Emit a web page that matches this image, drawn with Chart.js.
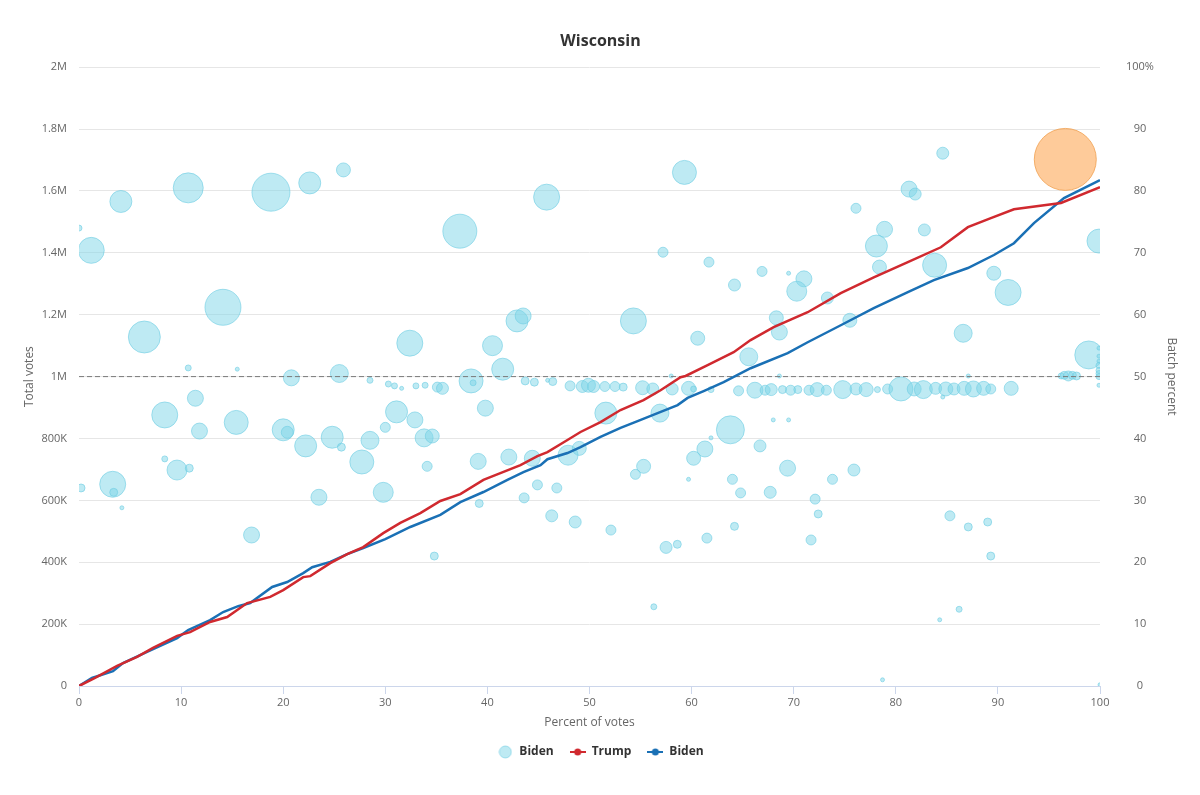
<!DOCTYPE html>
<html>
<head>
<meta charset="utf-8">
<title>Wisconsin</title>
<script src="https://cdn.jsdelivr.net/npm/chart.js@4.4.1/dist/chart.umd.min.js"></script>
<style>
  html, body { margin: 0; padding: 0; background: #fff; }
  #wrap { width: 1200px; height: 795px; position: relative; }
</style>
</head>
<body>
<div id="wrap"><canvas id="chart"></canvas></div>
<script>
// Vote batches: x = percent of votes counted, y = Biden share of the batch, r = bubble radius
const batchX = [
  0.0, 1.2, 4.1, 10.7, 18.8, 22.6, 25.9, 14.1, 6.4, 37.3, 45.8, 59.3, 57.2, 61.7, 64.2,
  32.4, 40.5, 42.9, 43.5, 54.3, 60.6, 66.9, 69.5, 71.0, 70.3, 73.3, 68.3, 68.6, 75.5, 65.6,
  86.6, 76.1, 78.9, 78.1, 78.4, 82.8, 83.8, 81.3, 81.9, 84.6, 89.6, 91.0, 99.9, 98.9, 96.6, 99.9,
  // around the 50% line
  10.7, 15.5, 20.8, 25.5, 28.5, 41.5, 38.4, 38.6, 58.0, 68.6, 87.1,
  96.2, 96.5, 96.9, 97.3, 97.7,
  99.9, 99.9, 99.9, 99.9, 99.9, 99.9, 99.9,
  30.3, 30.9, 31.6, 33.0, 33.9, 35.1, 35.6, 43.7, 44.6, 45.9, 46.4, 48.1, 49.3, 49.9, 50.4,
  51.5, 52.5, 53.3, 55.2, 56.2, 58.1, 59.7, 60.2, 61.9, 64.6, 66.2, 67.2, 67.8, 68.9, 69.7,
  70.4, 71.5, 72.3, 73.2, 74.8, 76.1, 77.1, 78.2, 79.2, 80.5, 81.8, 82.7, 83.9, 84.9, 85.7,
  86.7, 87.6, 88.6, 89.3, 91.3, 84.6,
  // lower batches
  0.2, 3.3, 3.4, 4.2, 8.4, 11.4, 11.8, 15.4, 8.4, 9.6, 10.8, 16.9, 20.0, 20.4, 22.2,
  24.8, 25.7, 27.7, 28.5, 30.0, 31.1, 23.5, 29.8, 32.9, 33.8, 34.6, 34.1, 34.8, 39.8, 39.1,
  39.2, 42.1, 44.4, 44.9, 43.6, 46.8, 46.3, 48.6, 52.1, 47.9, 49.0, 51.6, 56.9, 63.8, 61.3,
  60.2, 61.9, 55.3, 54.5, 59.7, 64.0, 64.2, 57.5, 58.6, 61.5, 56.3, 66.7, 69.4, 64.8, 67.7,
  73.8, 75.9, 72.1, 72.4, 71.7, 85.3, 87.1, 89.0, 89.3, 86.2, 84.3, 78.7, 100, 68.0, 69.5
];
const batchPct = [
  74.0, 70.4, 78.3, 80.5, 79.8, 81.3, 83.4, 61.2, 56.4, 73.5, 79.0, 83.0, 70.1, 68.5, 64.8,
  55.4, 55.0, 59.0, 59.8, 59.0, 56.2, 67.0, 66.7, 65.8, 63.8, 62.7, 59.5, 57.2, 59.1, 53.2,
  57.0, 77.2, 73.8, 71.1, 67.7, 73.7, 68.0, 80.3, 79.5, 86.1, 66.7, 63.6, 71.9, 53.5, 85.1, 54.6,
  51.4, 51.2, 49.8, 50.5, 49.4, 51.2, 49.3, 49.0, 50.1, 50.1, 50.1,
  50.1, 50.2, 50.1, 50.2, 50.1,
  53.3, 52.5, 51.8, 51.0, 50.5, 50.0, 48.6,
  48.8, 48.5, 48.1, 48.5, 48.6, 48.3, 48.1, 49.3, 49.1, 49.4, 49.2, 48.5, 48.4, 48.6, 48.4,
  48.4, 48.4, 48.3, 48.2, 48.0, 48.0, 48.1, 48.0, 47.9, 47.7, 47.8, 47.8, 47.9, 47.9, 47.8,
  47.9, 47.8, 47.9, 47.8, 47.9, 48.0, 47.9, 47.9, 48.0, 48.0, 48.0, 47.9, 48.1, 48.0, 48.0,
  48.1, 48.0, 48.1, 48.0, 48.1, 46.7,
  32.0, 32.6, 31.3, 28.8, 43.8, 46.5, 41.2, 42.6, 36.7, 34.9, 35.2, 24.4, 41.4, 41.0, 38.8,
  40.2, 38.6, 36.2, 39.7, 41.8, 44.3, 30.5, 31.3, 43.0, 40.1, 40.4, 35.5, 21.0, 44.9, 36.3,
  29.5, 37.0, 36.8, 32.5, 30.4, 32.0, 27.5, 26.5, 25.2, 37.3, 38.4, 44.1, 44.1, 41.4, 38.3,
  36.8, 40.1, 35.5, 34.2, 33.4, 33.4, 25.8, 22.4, 22.9, 23.9, 12.8, 38.8, 35.2, 31.2, 31.3,
  33.4, 34.9, 30.2, 27.8, 23.6, 27.5, 25.7, 26.5, 21.0, 12.4, 10.7, 1.0, 0.2, 43.0, 43.0
];
const batchSize = [
  3, 13, 11, 15, 19, 11, 7, 18, 16, 17, 13, 12, 5, 5, 6,
  13, 10, 11, 8, 13, 7, 5, 2, 8, 10, 6, 7, 8, 7, 9,
  9, 5, 8, 11, 7, 6, 12, 8, 6, 6, 7, 13, 12, 14, 31, 2,
  3, 2, 8, 9, 3, 11, 12, 3, 2, 2, 2,
  3, 4, 5, 4, 4,
  2, 2, 3, 3, 3, 3, 2,
  3, 3, 2, 3, 3, 5, 6, 4, 4, 2, 4, 5, 6, 7, 6,
  5, 5, 4, 7, 6, 6, 7, 3, 3, 5, 8, 5, 6, 4, 5,
  4, 5, 7, 5, 9, 6, 7, 3, 5, 12, 7, 9, 6, 7, 6,
  7, 8, 7, 5, 7, 2,
  4, 13, 4, 2, 13, 8, 8, 12, 3, 10, 4, 8, 11, 6, 11,
  11, 4, 12, 9, 5, 11, 8, 10, 8, 9, 7, 5, 4, 8, 8,
  4, 8, 8, 5, 5, 5, 6, 6, 5, 10, 7, 11, 9, 14, 8,
  7, 2, 7, 5, 2, 5, 4, 6, 4, 5, 3, 6, 8, 5, 6,
  5, 6, 5, 4, 5, 5, 4, 4, 4, 3, 2, 2, 2, 2, 2
];
const highlightIndex = 44; // the big late batch drawn in orange

// Cumulative totals against percent of votes counted
const trumpX = [
  0, 1.57, 3.73, 5.69, 7.25, 9.61, 10.88, 12.84, 14.51, 16.47, 18.73, 20.0, 21.96, 22.65, 24.61,
  26.27, 27.84, 29.8, 31.47, 33.43, 35.39, 37.35, 39.61, 41.27, 43.24, 44.9, 45.88, 47.84, 49.12, 51.08,
  53.04, 55.29, 56.96, 58.92, 59.41, 61.57, 64.12, 65.78, 68.04, 71.37, 74.61, 77.84, 81.18, 84.41, 87.06,
  89.31, 91.57, 96.18, 100
];
const trumpVotes = [
  0, 26000, 65000, 94000, 123000, 162000, 174000, 207000, 223000, 268000, 288000, 310000, 352000, 355000, 397000,
  426000, 449000, 494000, 527000, 559000, 598000, 620000, 666000, 688000, 714000, 743000, 756000, 795000, 821000, 853000,
  892000, 924000, 956000, 998000, 1002000, 1037000, 1079000, 1118000, 1160000, 1208000, 1270000, 1321000, 1370000, 1418000, 1483000,
  1512000, 1541000, 1561000, 1612000
];
const bidenX = [
  0, 1.27, 3.33, 4.31, 6.67, 9.61, 10.69, 12.84, 14.12, 15.59, 16.76, 18.92, 20.39, 21.96, 22.84,
  24.61, 26.27, 27.84, 30.0, 32.45, 35.39, 37.35, 39.61, 41.96, 43.53, 45.2, 45.88, 47.84, 49.12, 51.08,
  53.04, 54.71, 56.67, 58.63, 59.61, 61.18, 63.14, 65.78, 69.41, 71.37, 74.61, 77.84, 81.18, 83.73, 87.06,
  89.61, 91.57, 93.53, 96.47, 100
];
const bidenVotes = [
  0, 26000, 48000, 74000, 110000, 155000, 181000, 213000, 239000, 258000, 268000, 320000, 336000, 365000, 384000,
  401000, 426000, 446000, 475000, 514000, 553000, 594000, 627000, 666000, 691000, 714000, 733000, 753000, 772000, 805000,
  834000, 856000, 882000, 908000, 931000, 953000, 982000, 1027000, 1076000, 1111000, 1166000, 1221000, 1273000, 1312000, 1351000,
  1393000, 1431000, 1496000, 1577000, 1635000
];

// Axis ticks
const voteTicks = [0, 200000, 400000, 600000, 800000, 1000000, 1200000, 1400000, 1600000, 1800000, 2000000];
const voteTickLabels = ['0', '200K', '400K', '600K', '800K', '1M', '1.2M', '1.4M', '1.6M', '1.8M', '2M'];
const pctTicks = [0, 10, 20, 30, 40, 50, 60, 70, 80, 90, 100];
const pctTickLabels = ['0', '10', '20', '30', '40', '50', '60', '70', '80', '90', '100%'];

const BUBBLE_FILL = 'rgba(125, 214, 232, 0.5)';
const BUBBLE_EDGE = 'rgba(110, 205, 226, 0.6)';
const ORANGE_FILL = 'rgba(253, 168, 86, 0.6)';
const ORANGE_EDGE = 'rgba(240, 160, 80, 0.8)';
const TRUMP_RED = '#d0292f';
const BIDEN_BLUE = '#1a70b5';
const FONT = "'Open Sans', 'Liberation Sans', sans-serif";

// Legend icons: a circle for the bubbles, a short line with a dot for the lines
function bubbleIcon() {
  const c = document.createElement('canvas');
  c.width = 14; c.height = 14;
  const ctx = c.getContext('2d');
  ctx.beginPath();
  ctx.arc(7, 7, 6, 0, Math.PI * 2);
  ctx.fillStyle = BUBBLE_FILL;
  ctx.fill();
  ctx.strokeStyle = BUBBLE_EDGE;
  ctx.stroke();
  return c;
}

function lineIcon(color) {
  const c = document.createElement('canvas');
  c.width = 16; c.height = 8;
  const ctx = c.getContext('2d');
  ctx.strokeStyle = color;
  ctx.lineWidth = 2;
  ctx.beginPath();
  ctx.moveTo(0, 4);
  ctx.lineTo(16, 4);
  ctx.stroke();
  ctx.beginPath();
  ctx.arc(8, 4, 3.5, 0, Math.PI * 2);
  ctx.fillStyle = color;
  ctx.fill();
  return c;
}

const bubbleData = batchX.map((x, i) => ({ x: x, y: batchPct[i], r: batchSize[i] }));
const bubbleFill = batchX.map((x, i) => i === highlightIndex ? ORANGE_FILL : BUBBLE_FILL);
const bubbleEdge = batchX.map((x, i) => i === highlightIndex ? ORANGE_EDGE : BUBBLE_EDGE);

const legendIcons = [bubbleIcon(), lineIcon(TRUMP_RED), lineIcon(BIDEN_BLUE)];

new Chart(document.getElementById('chart'), {
  data: {
    datasets: [
      {
        type: 'bubble',
        label: 'Biden',
        data: bubbleData,
        yAxisID: 'y2',
        backgroundColor: bubbleFill,
        borderColor: bubbleEdge,
        borderWidth: 1,
        clip: 0,
        order: 3
      },
      {
        type: 'line',
        label: 'Trump',
        data: trumpX.map((x, i) => ({ x: x, y: trumpVotes[i] })),
        yAxisID: 'y',
        borderColor: TRUMP_RED,
        backgroundColor: TRUMP_RED,
        borderWidth: 2.5,
        pointRadius: 0,
        tension: 0,
        order: 1
      },
      {
        type: 'line',
        label: 'Biden',
        data: bidenX.map((x, i) => ({ x: x, y: bidenVotes[i] })),
        yAxisID: 'y',
        borderColor: BIDEN_BLUE,
        backgroundColor: BIDEN_BLUE,
        borderWidth: 2.5,
        pointRadius: 0,
        tension: 0,
        order: 1
      },
      {
        // 50% reference line on the batch axis
        type: 'line',
        label: 'half',
        data: [{ x: 0, y: 50 }, { x: 100, y: 50 }],
        yAxisID: 'y2',
        borderColor: '#7a7a7a',
        borderWidth: 1,
        borderDash: [5, 3],
        pointRadius: 0,
        order: 2
      }
    ]
  },
  options: {
    responsive: true,
    maintainAspectRatio: false,
    animation: false,
    layout: { padding: { left: 18, right: 17, bottom: 27 } },
    plugins: {
      title: {
        display: true,
        text: 'Wisconsin',
        color: '#333333',
        font: { family: FONT, size: 16, weight: 'bold' },
        padding: { top: 32, bottom: 16 }
      },
      legend: {
        position: 'bottom',
        labels: {
          usePointStyle: true,
          pointStyleWidth: 16,
          boxHeight: 12,
          padding: 16,
          color: '#333333',
          font: { family: FONT, size: 12, weight: 'bold' },
          generateLabels: function(chart) {
            return [0, 1, 2].map(i => ({
              text: chart.data.datasets[i].label,
              datasetIndex: i,
              pointStyle: legendIcons[i],
              fillStyle: 'transparent',
              strokeStyle: 'transparent',
              lineWidth: 0,
              fontColor: '#333333',
              hidden: false
            }));
          }
        }
      },
      tooltip: { enabled: false }
    },
    scales: {
      x: {
        type: 'linear',
        min: 0,
        max: 100,
        afterFit: function(scale) { scale.height = 44; },
        ticks: {
          stepSize: 10,
          color: '#666666',
          font: { family: FONT, size: 11 },
          padding: 2
        },
        grid: {
          drawOnChartArea: false,
          drawTicks: true,
          tickLength: 8,
          color: '#ccd6eb'
        },
        border: { display: true, color: '#ccd6eb' },
        title: {
          display: true,
          text: 'Percent of votes',
          color: '#666666',
          font: { family: FONT, size: 12 },
          padding: { top: 2, bottom: 0 }
        }
      },
      y: {
        type: 'linear',
        position: 'left',
        min: 0,
        max: 2000000,
        afterFit: function(scale) { scale.width = 61; },
        afterBuildTicks: function(scale) {
          scale.ticks = voteTicks.map(v => ({ value: v }));
        },
        ticks: {
          color: '#666666',
          font: { family: FONT, size: 11 },
          padding: 12,
          callback: function(value) {
            const i = voteTicks.indexOf(value);
            return i >= 0 ? voteTickLabels[i] : '';
          }
        },
        grid: { color: '#e6e6e6', drawTicks: false },
        border: { display: false },
        title: {
          display: true,
          text: 'Total votes',
          color: '#666666',
          font: { family: FONT, size: 12 }
        }
      },
      y2: {
        type: 'linear',
        position: 'right',
        min: 0,
        max: 100,
        afterFit: function(scale) { scale.width = 83; },
        afterBuildTicks: function(scale) {
          scale.ticks = pctTicks.map(v => ({ value: v }));
        },
        ticks: {
          color: '#666666',
          font: { family: FONT, size: 11 },
          padding: 26,
          crossAlign: 'center',
          callback: function(value) {
            const i = pctTicks.indexOf(value);
            return i >= 0 ? pctTickLabels[i] : '';
          }
        },
        grid: { drawOnChartArea: false, drawTicks: false },
        border: { display: false },
        title: {
          display: true,
          text: 'Batch percent',
          color: '#666666',
          font: { family: FONT, size: 12 }
        }
      }
    }
  }
});
</script>
</body>
</html>
